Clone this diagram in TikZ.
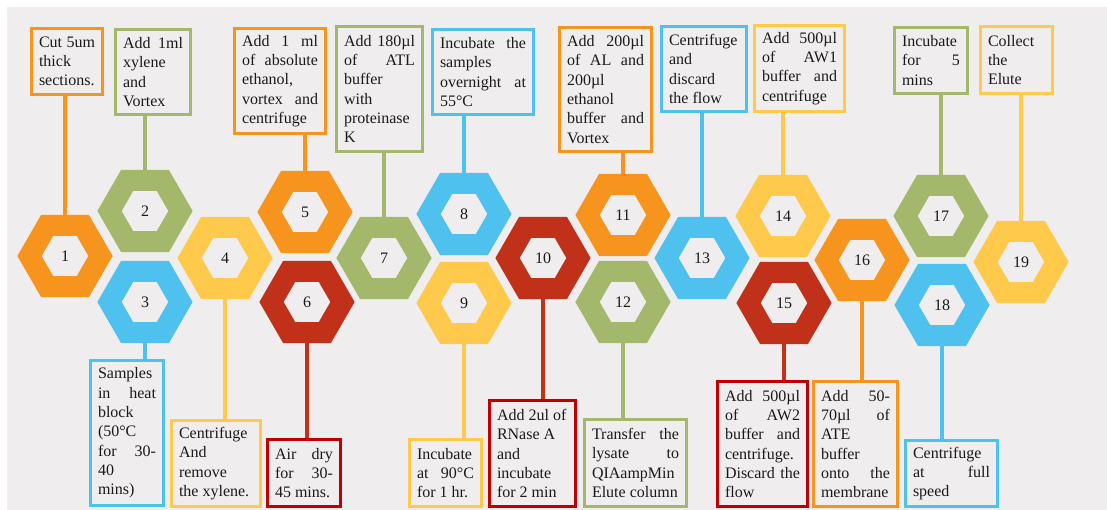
\documentclass[tikz,border=0pt]{standalone}
\usepackage{fontspec}
\setmainfont{Liberation Serif}
\usetikzlibrary{shapes.geometric}
\definecolor{bg}{HTML}{EFEDEE}
\definecolor{sorange}{HTML}{F7941D}
\definecolor{sgreen}{HTML}{A3B86A}
\definecolor{sblue}{HTML}{4FC1EE}
\definecolor{syellow}{HTML}{FFC94B}
\definecolor{sred}{HTML}{C1311A}
\definecolor{boxred}{HTML}{C00000}
\definecolor{ink}{HTML}{1A1A1A}
\newcommand{\fl}[1]{\makebox[\linewidth][s]{\spaceskip=0pt\xspaceskip=0pt\relax#1}}
\tikzset{hexa/.style={regular polygon,regular polygon sides=6,minimum size=71pt,inner sep=0pt,outer sep=0pt,
  line width=21pt,draw=#1,fill=bg,text=ink,font=\fontsize{16}{19.3}\selectfont},
  stepbox/.style={draw=#1,line width=3pt,fill=bg,anchor=north west,align=left,inner xsep=7.5pt,inner ysep=4pt,
  text=ink,font=\fontsize{16}{19.3}\selectfont,execute at begin node={\spaceskip=0pt\xspaceskip=0pt\relax}},
  link/.style={draw=#1,line width=3.4pt}}
\begin{document}
\begin{tikzpicture}[x=1pt,y=-1pt]
\useasboundingbox (0,0) rectangle (1107,510);
\fill[bg] (7,7) rectangle (1107,510);
\node[hexa=sorange] (h1) at (65,256) {1};
\node[hexa=sgreen] (h2) at (145,211) {2};
\node[hexa=sblue] (h3) at (145,302) {3};
\node[hexa=syellow] (h4) at (225,258) {4};
\node[hexa=sorange] (h5) at (305,212) {5};
\node[hexa=sred] (h6) at (307,302) {6};
\node[hexa=sgreen] (h7) at (384,258) {7};
\node[hexa=sblue] (h8) at (464,214) {8};
\node[hexa=syellow] (h9) at (464,303) {9};
\node[hexa=sred] (h10) at (543,258) {10};
\node[hexa=sorange] (h11) at (623,215) {11};
\node[hexa=sgreen] (h12) at (623,302) {12};
\node[hexa=sblue] (h13) at (702,258) {13};
\node[hexa=syellow] (h14) at (783,216) {14};
\node[hexa=sred] (h15) at (784,303) {15};
\node[hexa=sorange] (h16) at (862,260) {16};
\node[hexa=sgreen] (h17) at (941,216) {17};
\node[hexa=sblue] (h18) at (942,305) {18};
\node[hexa=syellow] (h19) at (1021,262) {19};
\node[stepbox=sorange,text width=56pt,minimum height=66pt] (b1) at (30,27) {\fl{Cut 5um}\\thick\\sections.};
\node[stepbox=sgreen,text width=60pt,minimum height=85pt] (b2) at (114,28) {\fl{Add 1ml}\\xylene\\and\\Vortex};
\node[stepbox=sorange,text width=76pt,minimum height=105pt] (b5) at (233,27) {\fl{Add 1 ml}\\\fl{of absolute}\\ethanol,\\\fl{vortex and}\\centrifuge};
\node[stepbox=sgreen,text width=71pt,minimum height=125pt] (b7) at (335,25) {\fl{Add 180µl}\\\fl{of ATL}\\buffer\\with\\proteinase\\K};
\node[stepbox=sblue,text width=86pt,minimum height=85pt] (b8) at (431,28) {\fl{Incubate the}\\samples\\\fl{overnight at}\\55°C};
\node[stepbox=sorange,text width=77pt,minimum height=124pt] (b11) at (558,26) {\fl{Add 200µl}\\\fl{of AL and}\\200µl\\ethanol\\\fl{buffer and}\\Vortex};
\node[stepbox=sblue,text width=70pt,minimum height=85pt] (b13) at (660,25) {Centrifuge\\and\\discard\\the flow};
\node[stepbox=syellow,text width=75pt,minimum height=86pt] (b14) at (753,24) {\fl{Add 500µl}\\\fl{of AW1}\\\fl{buffer and}\\centrifuge};
\node[stepbox=sgreen,text width=58pt,minimum height=66pt] (b17) at (893,26) {Incubate\\\fl{for 5}\\mins};
\node[stepbox=syellow,text width=57pt,minimum height=67pt] (b19) at (979,25) {Collect\\the\\Elute};
\node[stepbox=sblue,text width=58pt,minimum height=145pt] (b3) at (89,359) {Samples\\\fl{in heat}\\block\\(50°C\\\fl{for 30-}\\40\\mins)};
\node[stepbox=syellow,text width=74pt,minimum height=86pt] (b4) at (170,419) {Centrifuge\\And\\remove\\the xylene.};
\node[stepbox=boxred,text width=58pt,minimum height=67pt] (b6) at (266,438) {\fl{Air dry}\\\fl{for 30-}\\45 mins.};
\node[stepbox=syellow,text width=57pt,minimum height=67pt] (b9) at (408,438) {Incubate\\\fl{at 90°C}\\for 1 hr.};
\node[stepbox=boxred,text width=71pt,minimum height=106pt] (b10) at (488,399) {Add 2ul of\\RNase A\\and\\incubate\\for 2 min};
\node[stepbox=sgreen,text width=87pt,minimum height=87pt] (b12) at (583,418) {\fl{Transfer the}\\\fl{lysate to}\\QIAampMin\\Elute column};
\node[stepbox=boxred,text width=75pt,minimum height=125pt] (b15) at (716,380) {\fl{Add 500µl}\\\fl{of AW2}\\\fl{buffer and}\\centrifuge.\\\fl{Discard the}\\flow};
\node[stepbox=sorange,text width=69pt,minimum height=125pt] (b16) at (812,380) {\fl{Add 50-}\\\fl{70µl of}\\ATE\\buffer\\\fl{onto the}\\membrane};
\node[stepbox=sblue,text width=77pt,minimum height=66pt] (b18) at (904,439) {Centrifuge\\\fl{at full}\\speed};
\draw[link=sorange] (h1.north) -- (h1.north |- b1.south);
\draw[link=sgreen] (h2.north) -- (h2.north |- b2.south);
\draw[link=sorange] (h5.north) -- (h5.north |- b5.south);
\draw[link=sgreen] (h7.north) -- (h7.north |- b7.south);
\draw[link=sblue] (h8.north) -- (h8.north |- b8.south);
\draw[link=sorange] (h11.north) -- (h11.north |- b11.south);
\draw[link=sblue] (h13.north) -- (h13.north |- b13.south);
\draw[link=syellow] (h14.north) -- (h14.north |- b14.south);
\draw[link=sgreen] (h17.north) -- (h17.north |- b17.south);
\draw[link=syellow] (h19.north) -- (h19.north |- b19.south);
\draw[link=sblue] (h3.south) -- (h3.south |- b3.north);
\draw[link=syellow] (h4.south) -- (h4.south |- b4.north);
\draw[link=sred] (h6.south) -- (h6.south |- b6.north);
\draw[link=syellow] (h9.south) -- (h9.south |- b9.north);
\draw[link=sred] (h10.south) -- (h10.south |- b10.north);
\draw[link=sgreen] (h12.south) -- (h12.south |- b12.north);
\draw[link=sred] (h15.south) -- (h15.south |- b15.north);
\draw[link=sorange] (h16.south) -- (h16.south |- b16.north);
\draw[link=sblue] (h18.south) -- (h18.south |- b18.north);
\end{tikzpicture}
\end{document}
